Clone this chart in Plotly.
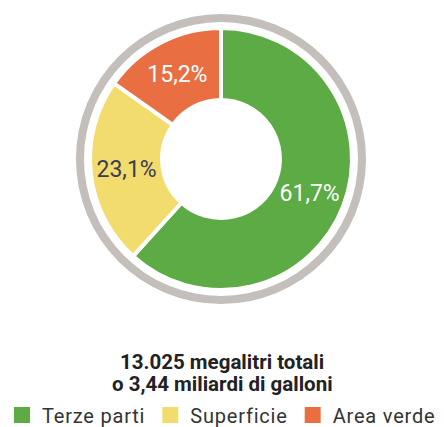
import plotly.graph_objects as go

categories = ["Terze parti", "Superficie", "Area verde"]
values = [61.7, 23.1, 15.2]
colors = ["#5cab45", "#f2dc6e", "#e96f42"]
label_colors = ["#ffffff", "#3b3d50", "#ffffff"]
title_lines = ["13.025 megalitri totali", "o 3,44 miliardi di galloni"]

W, H = 444, 427
cx, cy = 221, 159
r_pie, r_ring = 131, 145

def dom(r):
    ycb = H - cy
    return dict(x=[(cx - r) / W, (cx + r) / W], y=[(ycb - r) / H, (ycb + r) / H])

fig = go.Figure()

# outer gray ring
fig.add_trace(go.Pie(
    values=[1], labels=["ring"], hole=137 / 145, sort=False,
    marker=dict(colors=["#c5bfbc"], line=dict(width=0)),
    textinfo="none", hoverinfo="skip", showlegend=False, domain=dom(r_ring),
))

fig.add_trace(go.Pie(
    values=values, labels=categories, hole=0.45, sort=False,
    direction="clockwise", rotation=0,
    marker=dict(colors=colors, line=dict(color="white", width=4)),
    texttemplate="%{percent:.1%}", textposition="inside",
    insidetextorientation="horizontal",
    insidetextfont=dict(family="Roboto", size=23, color=label_colors),
    showlegend=False, domain=dom(r_pie),
))

for c, col in zip(categories, colors):
    fig.add_trace(go.Scatter(
        x=[None], y=[None], mode="markers",
        name='<span style="letter-spacing:0.8px">' + c + "</span>",
        marker=dict(symbol="square", size=16, color=col),
        showlegend=True,
    ))

for line, ypx in zip(title_lines, [361.5, 383.5]):
    fig.add_annotation(
        x=0.5, y=(H - ypx) / H, xref="paper", yref="paper",
        text="<b>" + line + "</b>", showarrow=False,
        font=dict(family="Roboto", size=20.5, color="#222222"),
        align="center", xanchor="center", yanchor="middle",
    )

fig.update_layout(
    width=W, height=H, margin=dict(l=0, r=0, t=0, b=0, autoexpand=False),
    paper_bgcolor="white", plot_bgcolor="white",
    separators=",.",
    xaxis=dict(visible=False), yaxis=dict(visible=False),
    legend=dict(orientation="h", x=2 / W, xanchor="left", y=(H - 415) / H, yanchor="middle",
                font=dict(family="Roboto", size=20, color="#333333"),
                itemsizing="trace", bgcolor="rgba(0,0,0,0)"),
)

fig.write_html("out.html")
